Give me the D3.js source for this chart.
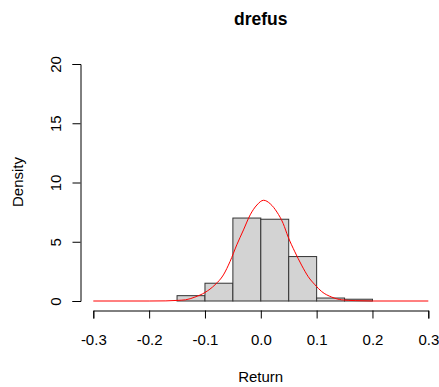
<!DOCTYPE html>
<html>
<head>
<meta charset="utf-8">
<script src="https://cdn.jsdelivr.net/npm/d3@7/dist/d3.min.js"></script>
<style>
  html, body { margin: 0; padding: 0; background: #fff; }
  svg { display: block; font-family: "Liberation Sans", Arial, sans-serif; }
</style>
</head>
<body>
<svg id="chart" width="439" height="387"></svg>
<script>
// Histogram of returns: bin edges (width 0.05) and densities
const binStarts = [-0.15, -0.10, -0.05, 0.00, 0.05, 0.10, 0.15];
const binWidth = 0.05;
const binDensity = [0.45, 1.5, 7.0, 6.9, 3.75, 0.25, 0.15];

// Kernel density estimate overlay
const kdeX = [-0.30, -0.20, -0.17, -0.15, -0.135, -0.118, -0.100, -0.082, -0.067, -0.055, -0.043, -0.031, -0.019, -0.007,
              0.005, 0.017, 0.029, 0.040, 0.049, 0.061, 0.073, 0.085, 0.097, 0.109, 0.127, 0.145, 0.17, 0.20, 0.30];
const kdeY = [0, 0, 0.01, 0.05, 0.1, 0.33, 0.72, 1.37, 2.2, 3.34, 4.74, 6.0, 7.27, 8.1,
              8.5, 8.2, 7.5, 6.55, 5.4, 4.15, 3.03, 2.05, 1.37, 0.8, 0.33, 0.1, 0.03, 0, 0];

// Axis ticks
const xTicks = [-0.3, -0.2, -0.1, 0.0, 0.1, 0.2, 0.3];
const yTicks = [0, 5, 10, 15, 20];

const svg = d3.select("#chart");

const x = d3.scaleLinear().domain([-0.3, 0.3]).range([93.3, 428.3]);
const y = d3.scaleLinear().domain([0, 20]).range([301, 64]);

// Bars
svg.append("g")
  .selectAll("rect")
  .data(binStarts.map((s, i) => ({ s, d: binDensity[i] })))
  .join("rect")
  .attr("x", d => x(d.s))
  .attr("y", d => y(d.d))
  .attr("width", d => x(d.s + binWidth) - x(d.s))
  .attr("height", d => y(0) - y(d.d))
  .attr("fill", "#d3d3d3")
  .attr("stroke", "#333")
  .attr("stroke-width", 1);

// Density curve
const line = d3.line()
  .x((d, i) => x(kdeX[i]))
  .y(d => y(d))
  .curve(d3.curveMonotoneX);

svg.append("path")
  .datum(kdeY)
  .attr("d", line)
  .attr("fill", "none")
  .attr("stroke", "#ff0000")
  .attr("stroke-width", 1);

// X axis
const xAxis = svg.append("g")
  .attr("transform", "translate(0,310.5)")
  .call(d3.axisBottom(x).tickValues(xTicks).tickFormat(d3.format(".1f")).tickSize(8).tickPadding(16));
xAxis.selectAll("text")
  .attr("font-size", "15px")
  .attr("font-family", "Liberation Sans, Arial, sans-serif")
  .attr("fill", "#000")
  .text(d => d3.format(".1f")(d).replace("−", "-"));

// Y axis
const yAxis = svg.append("g")
  .attr("transform", "translate(80.5,0)")
  .call(d3.axisLeft(y).tickValues(yTicks).tickSize(8).tickPadding(6));
yAxis.selectAll("text")
  .attr("font-size", "15px")
  .attr("font-family", "Liberation Sans, Arial, sans-serif")
  .attr("fill", "#000")
  .attr("text-anchor", "middle")
  .attr("x", null)
  .attr("dy", null)
  .attr("y", 0)
  .attr("transform", "translate(-20,0) rotate(-90)");

[xAxis, yAxis].forEach(g => {
  g.select(".domain").attr("stroke", "#000");
  g.selectAll(".tick line").attr("stroke", "#000");
});

// Titles
svg.append("text")
  .attr("x", 260.7)
  .attr("y", 25)
  .attr("text-anchor", "middle")
  .attr("font-size", "17.5px")
  .attr("font-weight", "bold")
  .text("drefus");

svg.append("text")
  .attr("x", 260.7)
  .attr("y", 382)
  .attr("text-anchor", "middle")
  .attr("font-size", "15px")
  .text("Return");

svg.append("text")
  .attr("transform", "translate(23,182) rotate(-90)")
  .attr("text-anchor", "middle")
  .attr("font-size", "15px")
  .text("Density");
</script>
</body>
</html>
